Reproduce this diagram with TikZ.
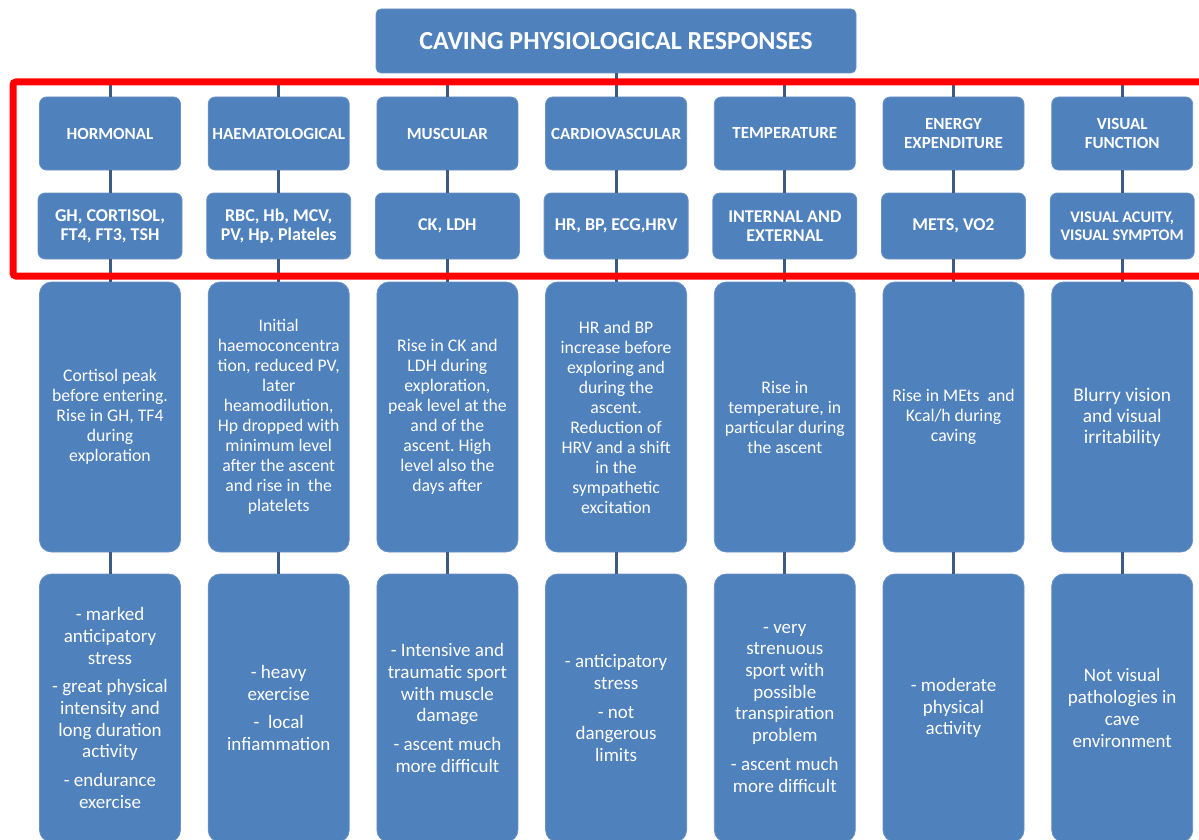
\documentclass[tikz,border=0pt]{standalone}
\usepackage{fontspec}
\setmainfont{Carlito}
\frenchspacing
\definecolor{boxblue}{HTML}{4F81BD}
\definecolor{boxedge}{HTML}{6A92C6}
\definecolor{linkblue}{HTML}{3D5A85}
\definecolor{framered}{HTML}{FF0000}
\begin{document}
\begin{tikzpicture}[x=1pt,y=-1pt,
  box/.style={fill=boxblue, draw=boxedge, line width=0.8pt, text=white, inner sep=0pt, align=center},
  titlebox/.style={box, minimum width=480pt, minimum height=64pt, rounded corners=5pt, font=\bfseries\fontsize{26}{30}\selectfont},
  catbox/.style={box, minimum width=141pt, minimum height=73pt, rounded corners=7pt, font=\bfseries\fontsize{17}{19}\selectfont},
  parbox/.style={box, minimum width=144pt, minimum height=66pt, rounded corners=7pt, font=\bfseries\fontsize{18}{19}\selectfont},
  respbox/.style={box, minimum width=141pt, minimum height=270pt, rounded corners=12pt, font=\fontsize{17.7}{20}\selectfont},
  notebox/.style={box, minimum width=141pt, minimum height=268pt, rounded corners=12pt, font=\fontsize{19}{21.7}\selectfont},
  link/.style={draw=linkblue, line width=3pt},
]
\useasboundingbox (0,0) rectangle (1199,840);
\fill[white] (0,0) rectangle (1199,840);

\node[titlebox] (title) at (616,41) {CAVING PHYSIOLOGICAL RESPONSES};

% row 1
\node[catbox] (c1) at (110,133.5) {HORMONAL};
\node[catbox] (c2) at (278.7,133.5) {HAEMATOLOGICAL};
\node[catbox] (c3) at (447.4,133.5) {MUSCULAR};
\node[catbox] (c4) at (616.1,133.5) {CARDIOVASCULAR};
\node[catbox] (c5) at (784.8,133.5) {TEMPERATURE};
\node[catbox] (c6) at (953.5,133.5) {ENERGY\\EXPENDITURE};
\node[catbox] (c7) at (1122.2,133.5) {VISUAL\\FUNCTION};

% row 2
\node[parbox] (p1) at (110,226) {GH, CORTISOL,\\FT4, FT3, TSH};
\node[parbox] (p2) at (278.7,226) {RBC, Hb, MCV,\\PV, Hp, Plateles};
\node[parbox] (p3) at (447.4,226) {CK, LDH};
\node[parbox] (p4) at (616.1,226) {HR, BP, ECG,HRV};
\node[parbox] (p5) at (784.8,226) {INTERNAL AND\\EXTERNAL};
\node[parbox] (p6) at (953.5,226) {METS, VO2};
\node[parbox, font=\bfseries\fontsize{16.2}{18.5}\selectfont] (p7) at (1122.2,226) {VISUAL ACUITY,\\VISUAL SYMPTOM};

% row 3
\node[respbox] (r1) at (110,417) {Cortisol peak\\before entering.\\Rise in GH, TF4\\during\\exploration};
\node[respbox] (r2) at (278.7,417) {Initial\\haemoconcentra\\tion, reduced PV,\\later\\heamodilution,\\Hp dropped with\\minimum level\\after the ascent\\and rise in~ the\\platelets};
\node[respbox] (r3) at (447.4,417) {Rise in CK and\\LDH during\\exploration,\\peak level at the\\and of the\\ascent. High\\level also the\\days after};
\node[respbox] (r4) at (616.1,417) {HR and BP\\increase before\\exploring and\\during the\\ascent.\\Reduction of\\HRV and a shift\\in the\\sympathetic\\excitation};
\node[respbox] (r5) at (784.8,417) {Rise in\\temperature, in\\particular during\\the ascent};
\node[respbox] (r6) at (953.5,417) {Rise in MEts~ and\\Kcal/h during\\caving};
\node[respbox, font=\fontsize{19.4}{21}\selectfont] (r7) at (1122.2,417) {Blurry vision\\and visual\\irritability};

% row 4
\node[notebox] (n1) at (110,708) {- marked\\anticipatory\\stress\\[7pt]- great physical\\intensity and\\long duration\\activity\\[7pt]- endurance\\exercise};
\node[notebox] (n2) at (278.7,708) {- heavy\\exercise\\[7pt]-~ local\\infiammation};
\node[notebox] (n3) at (447.4,708) {- Intensive and\\traumatic sport\\with muscle\\damage\\[7pt]- ascent much\\more difficult};
\node[notebox] (n4) at (616.1,708) {- anticipatory\\stress\\[7pt]- not\\dangerous\\limits};
\node[notebox] (n5) at (784.8,708) {- very\\strenuous\\sport with\\possible\\transpiration\\problem\\[7pt]- ascent much\\more difficult};
\node[notebox] (n6) at (953.5,708) {- moderate\\physical\\activity};
\node[notebox] (n7) at (1122.2,708) {Not visual\\pathologies in\\cave\\environment};

% connectors
\foreach \i in {1,...,7} {
  \draw[link] (title.south) -- ++(0,9) -| (c\i.north);
  \draw[link] (c\i.south) -- (p\i.north);
  \draw[link] (p\i.south) -- (r\i.north);
  \draw[link] (r\i.south) -- (n\i.north);
}

% red highlight frame
\draw[framered, line width=7pt, rounded corners=3pt] (13,82) rectangle (1215,276);
\end{tikzpicture}
\end{document}
